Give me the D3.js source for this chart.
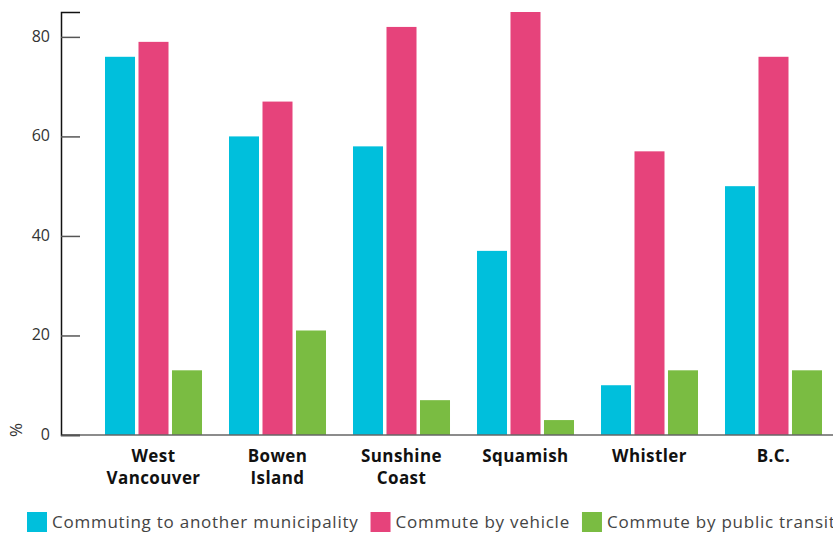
<!DOCTYPE html>
<html>
<head>
<meta charset="utf-8">
<script src="https://cdn.jsdelivr.net/npm/d3@7"></script>
<style>
  body { margin: 0; background: #fff; }
  svg { display: block; }
</style>
</head>
<body>
<div id="chart"></div>
<script>
// data
var categories = ["West Vancouver", "Bowen Island", "Sunshine Coast", "Squamish", "Whistler", "B.C."];
var catLines = [["West", "Vancouver"], ["Bowen", "Island"], ["Sunshine", "Coast"], ["Squamish"], ["Whistler"], ["B.C."]];
var seriesNames = ["Commuting to another municipality", "Commute by vehicle", "Commute by public transit"];
var anotherMunicipality = [76, 60, 58, 37, 10, 50];
var byVehicle = [79, 67, 82, 85, 57, 76];
var byTransit = [13, 21, 7, 3, 13, 13];
var yTicks = [0, 20, 40, 60, 80];
var yMax = 85;

var colors = ["#00bfdc", "#e6437b", "#7abc42"];

var width = 833, height = 533;
var svg = d3.select("#chart")
  .append("svg")
  .attr("width", width)
  .attr("height", height);

var table = categories.map(function(c, i) {
  return { cat: c, lines: catLines[i], values: [anotherMunicipality[i], byVehicle[i], byTransit[i]] };
});

var x0 = d3.scaleBand()
  .domain(categories)
  .range([105, 822])
  .paddingInner(0.2177)
  .paddingOuter(0);

var x1 = d3.scaleBand()
  .domain(seriesNames)
  .range([0, x0.bandwidth()])
  .paddingInner(0.104);

var y = d3.scaleLinear()
  .domain([0, yMax])
  .range([435, 12]);

// bars
var groups = svg.append("g")
  .selectAll("g")
  .data(table)
  .enter()
  .append("g")
  .attr("transform", function(d) { return "translate(" + x0(d.cat) + ",0)"; });

groups.selectAll("rect")
  .data(function(d) { return d.values.map(function(v, j) { return { key: seriesNames[j], value: v, j: j }; }); })
  .enter()
  .append("rect")
  .attr("x", function(d) { return x1(d.key); })
  .attr("y", function(d) { return y(d.value); })
  .attr("width", x1.bandwidth())
  .attr("height", function(d) { return y(0) - y(d.value); })
  .attr("fill", function(d) { return colors[d.j]; });

// x axis line
svg.append("line")
  .attr("x1", 61).attr("x2", width)
  .attr("y1", y(0)).attr("y2", y(0))
  .attr("stroke", "#666")
  .attr("stroke-width", 1.5);

// y axis
var yAxis = svg.append("g")
  .attr("transform", "translate(61,0)")
  .call(d3.axisRight(y).tickValues(yTicks).tickSize(19).tickFormat(""));
yAxis.select(".domain").attr("stroke", "#111").attr("stroke-width", 1.5);
yAxis.selectAll(".tick line").attr("stroke", "#555").attr("stroke-width", 1.5);

svg.append("g")
  .selectAll("text")
  .data(yTicks)
  .enter()
  .append("text")
  .attr("x", 50)
  .attr("y", function(d) { return y(d); })
  .attr("dy", "0.3em")
  .attr("text-anchor", "end")
  .style("font-family", "'Open Sans', sans-serif")
  .style("font-size", "16px")
  .attr("fill", "#333")
  .text(function(d) { return d; });

// y axis title
svg.append("text")
  .attr("transform", "translate(22,430) rotate(-90)")
  .attr("text-anchor", "middle")
  .style("font-family", "'Open Sans', sans-serif")
  .style("font-size", "17px")
  .attr("fill", "#333")
  .text("%");

// category labels
var catLabels = svg.append("g")
  .selectAll("text")
  .data(table)
  .enter()
  .append("text")
  .attr("text-anchor", "middle")
  .style("font-family", "'Open Sans', sans-serif")
  .style("font-weight", "700")
  .style("font-size", "17px")
  .style("letter-spacing", "0.4px")
  .attr("fill", "#111");

catLabels.selectAll("tspan")
  .data(function(d) { return d.lines.map(function(l) { return { l: l, cx: x0(d.cat) + x0.bandwidth() / 2 }; }); })
  .enter()
  .append("tspan")
  .attr("x", function(d) { return d.cx; })
  .attr("y", function(d, i) { return 462 + i * 22; })
  .text(function(d) { return d.l; });

// legend
var legend = svg.append("g");
var lx = 27;
seriesNames.forEach(function(name, i) {
  legend.append("rect")
    .attr("x", lx).attr("y", 512)
    .attr("width", 20).attr("height", 20)
    .attr("fill", colors[i]);
  var t = legend.append("text")
    .attr("x", lx + 25)
    .attr("y", 528)
    .style("font-family", "'Open Sans', sans-serif")
    .style("font-size", "17px")
    .style("letter-spacing", "0.75px")
    .attr("fill", "#444")
    .text(name);
  lx = lx + 25 + t.node().getComputedTextLength() + 12;
});
</script>
</body>
</html>
